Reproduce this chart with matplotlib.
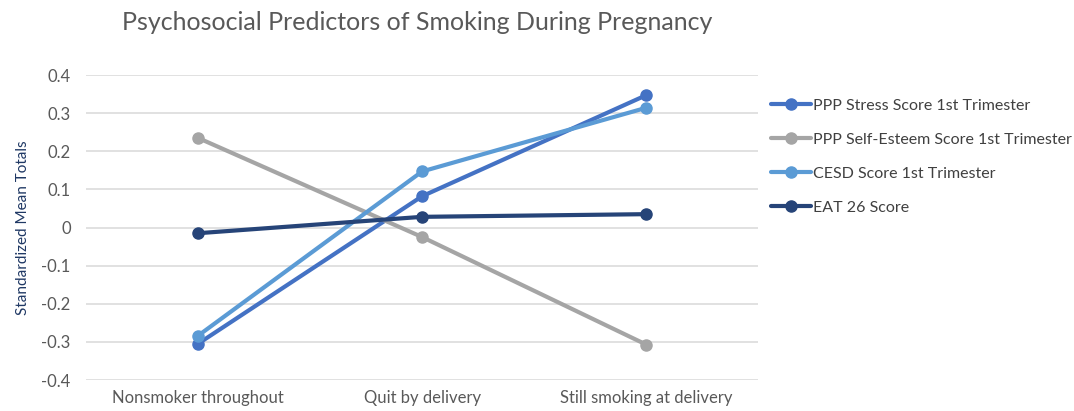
import matplotlib
matplotlib.use("Agg")
import matplotlib.pyplot as plt

plt.rcParams['font.family'] = ['Lato', 'DejaVu Sans']

categories = ["Nonsmoker throughout", "Quit by delivery", "Still smoking at delivery"]
series_names = ["PPP Stress Score 1st Trimester", "PPP Self-Esteem Score 1st Trimester",
                "CESD Score 1st Trimester", "EAT 26 Score"]
stress = [-0.305, 0.082, 0.347]
self_esteem = [0.235, -0.025, -0.307]
cesd = [-0.284, 0.147, 0.314]
eat26 = [-0.015, 0.028, 0.035]
yticks = [-0.4, -0.3, -0.2, -0.1, 0, 0.1, 0.2, 0.3, 0.4]
ytick_labels = ["-0.4", "-0.3", "-0.2", "-0.1", "0", "0.1", "0.2", "0.3", "0.4"]
colors = ["#4472C4", "#A5A5A5", "#5B9BD5", "#264478"]

fig = plt.figure(figsize=(10.74, 4.11), dpi=100)
ax = fig.add_axes([0.080, 0.0754, 0.626, 0.7421])

x = list(range(len(categories)))
for vals, name, c in zip([stress, self_esteem, cesd, eat26], series_names, colors):
    ax.plot(x, vals, color=c, lw=3.0, marker='o', ms=8, label=name,
            solid_capstyle='round', zorder=3)

ax.set_xlim(-0.5, 2.5)
ax.set_ylim(-0.4, 0.4)
ax.set_yticks(yticks)
ax.set_yticklabels(ytick_labels)
ax.set_xticks(x)
ax.set_xticklabels(categories)
ax.grid(axis='y', color='#D9D9D9', lw=1.1)
ax.set_axisbelow(True)
for s in ax.spines.values():
    s.set_visible(False)
ax.tick_params(axis='both', length=0, colors='#595959', labelsize=12)
ax.tick_params(axis='y', pad=11)
ax.tick_params(axis='x', pad=7)
ax.set_ylabel("Standardized Mean Totals", color='#1F3864', fontsize=11, labelpad=8)

fig.text(0.388, 0.945, "Psychosocial Predictors of Smoking During Pregnancy",
         ha='center', va='center', fontsize=18, color='#595959')

leg = ax.legend(loc='upper left', bbox_to_anchor=(1.01, 0.943), frameon=False,
                fontsize=11.5, labelcolor='#404040', handlelength=2.5,
                handletextpad=0.1, labelspacing=1.24, borderaxespad=0)

fig.savefig("out.png", dpi=100)
